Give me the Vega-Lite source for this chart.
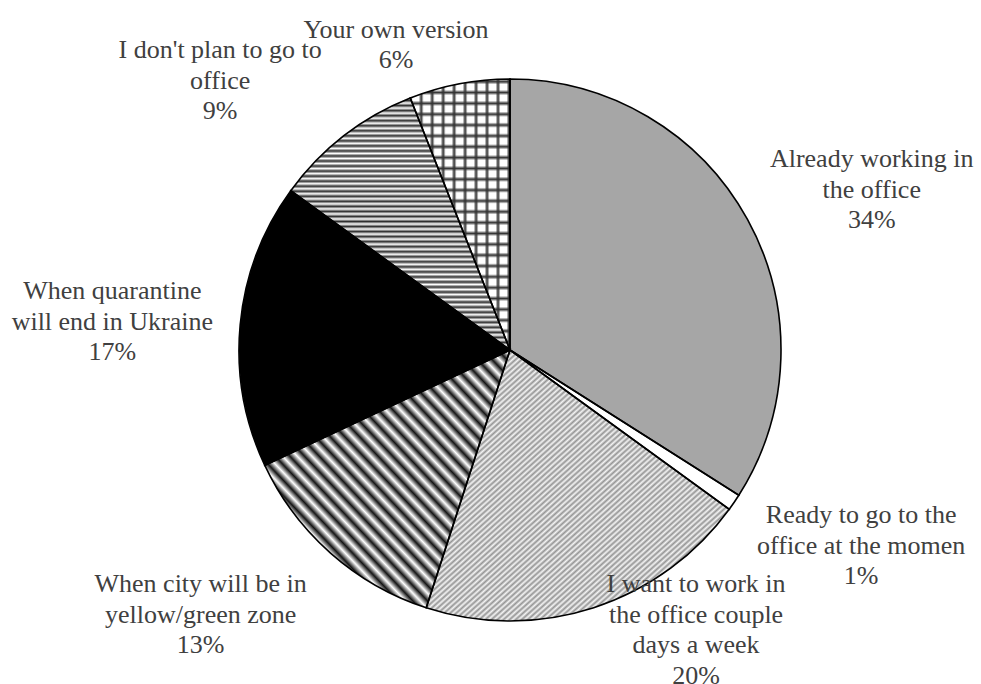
{
"$schema": "https://vega.github.io/schema/vega-lite/v6.json",
"width": 942, "height": 668,
"padding": {"left": 39, "top": 16, "right": 0, "bottom": 0},
"autosize": {"type": "none"},
"background": "#ffffff",
"config": {"view": {"stroke": null}},
"data": {"values": [
 {"cat": "Already working in the office", "label": "Already working in\nthe office\n34%", "value": 34, "order": 1},
 {"cat": "Ready to go to the office at the momen", "label": "Ready to go to the\noffice at the momen\n1%", "value": 1, "order": 2},
 {"cat": "I want to work in the office couple days a week", "label": "I want to work in\nthe office couple\ndays a week\n20%", "value": 20, "order": 3},
 {"cat": "When city will be in yellow/green zone", "label": "When city will be in\nyellow/green zone\n13%", "value": 13, "order": 4},
 {"cat": "When quarantine will end in Ukraine", "label": "When quarantine\nwill end in Ukraine\n17%", "value": 17, "order": 5},
 {"cat": "I don't plan to go to office", "label": "I don't plan to go to\noffice\n9%", "value": 9, "order": 6},
 {"cat": "Your own version", "label": "Your own version\n6%", "value": 6, "order": 7}
]},
"encoding": {
 "theta": {"field": "value", "type": "quantitative", "stack": true},
 "order": {"field": "order", "type": "quantitative"}
},
"layer": [
 {"mark": {"type": "arc", "outerRadius": 271, "strokeWidth": 0},
  "encoding": {"fill": {"field": "cat", "type": "nominal", "legend": null,
   "scale": {"domain": ["Already working in the office", "Ready to go to the office at the momen", "I want to work in the office couple days a week", "When city will be in yellow/green zone", "When quarantine will end in Ukraine", "I don't plan to go to office", "Your own version"],
             "range": ["#a6a6a6", "#ffffff", "#d0d0d0", "#ffffff", "#000000", "#ffffff", "#ffffff"]}}}},
 {"mark": {"type": "arc", "outerRadius": 271, "strokeWidth": 0,
   "fill": {"gradient": "linear", "x1": 0, "y1": 0, "x2": 1, "y2": 1, "stops": [
{"offset":0,"color":"#f4f4f4"},{"offset":0.005,"color":"#959595"},{"offset":0.01,"color":"#f4f4f4"},{"offset":0.015,"color":"#959595"},{"offset":0.02,"color":"#f4f4f4"},{"offset":0.025,"color":"#959595"},{"offset":0.03,"color":"#f4f4f4"},{"offset":0.035,"color":"#959595"},{"offset":0.04,"color":"#f4f4f4"},{"offset":0.045,"color":"#959595"},
{"offset":0.05,"color":"#f4f4f4"},{"offset":0.055,"color":"#959595"},{"offset":0.06,"color":"#f4f4f4"},{"offset":0.065,"color":"#959595"},{"offset":0.07,"color":"#f4f4f4"},{"offset":0.075,"color":"#959595"},{"offset":0.08,"color":"#f4f4f4"},{"offset":0.085,"color":"#959595"},{"offset":0.09,"color":"#f4f4f4"},{"offset":0.095,"color":"#959595"},
{"offset":0.1,"color":"#f4f4f4"},{"offset":0.105,"color":"#959595"},{"offset":0.11,"color":"#f4f4f4"},{"offset":0.115,"color":"#959595"},{"offset":0.12,"color":"#f4f4f4"},{"offset":0.125,"color":"#959595"},{"offset":0.13,"color":"#f4f4f4"},{"offset":0.135,"color":"#959595"},{"offset":0.14,"color":"#f4f4f4"},{"offset":0.145,"color":"#959595"},
{"offset":0.15,"color":"#f4f4f4"},{"offset":0.155,"color":"#959595"},{"offset":0.16,"color":"#f4f4f4"},{"offset":0.165,"color":"#959595"},{"offset":0.17,"color":"#f4f4f4"},{"offset":0.175,"color":"#959595"},{"offset":0.18,"color":"#f4f4f4"},{"offset":0.185,"color":"#959595"},{"offset":0.19,"color":"#f4f4f4"},{"offset":0.195,"color":"#959595"},
{"offset":0.2,"color":"#f4f4f4"},{"offset":0.205,"color":"#959595"},{"offset":0.21,"color":"#f4f4f4"},{"offset":0.215,"color":"#959595"},{"offset":0.22,"color":"#f4f4f4"},{"offset":0.225,"color":"#959595"},{"offset":0.23,"color":"#f4f4f4"},{"offset":0.235,"color":"#959595"},{"offset":0.24,"color":"#f4f4f4"},{"offset":0.245,"color":"#959595"},
{"offset":0.25,"color":"#f4f4f4"},{"offset":0.255,"color":"#959595"},{"offset":0.26,"color":"#f4f4f4"},{"offset":0.265,"color":"#959595"},{"offset":0.27,"color":"#f4f4f4"},{"offset":0.275,"color":"#959595"},{"offset":0.28,"color":"#f4f4f4"},{"offset":0.285,"color":"#959595"},{"offset":0.29,"color":"#f4f4f4"},{"offset":0.295,"color":"#959595"},
{"offset":0.3,"color":"#f4f4f4"},{"offset":0.305,"color":"#959595"},{"offset":0.31,"color":"#f4f4f4"},{"offset":0.315,"color":"#959595"},{"offset":0.32,"color":"#f4f4f4"},{"offset":0.325,"color":"#959595"},{"offset":0.33,"color":"#f4f4f4"},{"offset":0.335,"color":"#959595"},{"offset":0.34,"color":"#f4f4f4"},{"offset":0.345,"color":"#959595"},
{"offset":0.35,"color":"#f4f4f4"},{"offset":0.355,"color":"#959595"},{"offset":0.36,"color":"#f4f4f4"},{"offset":0.365,"color":"#959595"},{"offset":0.37,"color":"#f4f4f4"},{"offset":0.375,"color":"#959595"},{"offset":0.38,"color":"#f4f4f4"},{"offset":0.385,"color":"#959595"},{"offset":0.39,"color":"#f4f4f4"},{"offset":0.395,"color":"#959595"},
{"offset":0.4,"color":"#f4f4f4"},{"offset":0.405,"color":"#959595"},{"offset":0.41,"color":"#f4f4f4"},{"offset":0.415,"color":"#959595"},{"offset":0.42,"color":"#f4f4f4"},{"offset":0.425,"color":"#959595"},{"offset":0.43,"color":"#f4f4f4"},{"offset":0.435,"color":"#959595"},{"offset":0.44,"color":"#f4f4f4"},{"offset":0.445,"color":"#959595"},
{"offset":0.45,"color":"#f4f4f4"},{"offset":0.455,"color":"#959595"},{"offset":0.46,"color":"#f4f4f4"},{"offset":0.465,"color":"#959595"},{"offset":0.47,"color":"#f4f4f4"},{"offset":0.475,"color":"#959595"},{"offset":0.48,"color":"#f4f4f4"},{"offset":0.485,"color":"#959595"},{"offset":0.49,"color":"#f4f4f4"},{"offset":0.495,"color":"#959595"},
{"offset":0.5,"color":"#f4f4f4"},{"offset":0.505,"color":"#959595"},{"offset":0.51,"color":"#f4f4f4"},{"offset":0.515,"color":"#959595"},{"offset":0.52,"color":"#f4f4f4"},{"offset":0.525,"color":"#959595"},{"offset":0.53,"color":"#f4f4f4"},{"offset":0.535,"color":"#959595"},{"offset":0.54,"color":"#f4f4f4"},{"offset":0.545,"color":"#959595"},
{"offset":0.55,"color":"#f4f4f4"},{"offset":0.555,"color":"#959595"},{"offset":0.56,"color":"#f4f4f4"},{"offset":0.565,"color":"#959595"},{"offset":0.57,"color":"#f4f4f4"},{"offset":0.575,"color":"#959595"},{"offset":0.58,"color":"#f4f4f4"},{"offset":0.585,"color":"#959595"},{"offset":0.59,"color":"#f4f4f4"},{"offset":0.595,"color":"#959595"},
{"offset":0.6,"color":"#f4f4f4"},{"offset":0.605,"color":"#959595"},{"offset":0.61,"color":"#f4f4f4"},{"offset":0.615,"color":"#959595"},{"offset":0.62,"color":"#f4f4f4"},{"offset":0.625,"color":"#959595"},{"offset":0.63,"color":"#f4f4f4"},{"offset":0.635,"color":"#959595"},{"offset":0.64,"color":"#f4f4f4"},{"offset":0.645,"color":"#959595"},
{"offset":0.65,"color":"#f4f4f4"},{"offset":0.655,"color":"#959595"},{"offset":0.66,"color":"#f4f4f4"},{"offset":0.665,"color":"#959595"},{"offset":0.67,"color":"#f4f4f4"},{"offset":0.675,"color":"#959595"},{"offset":0.68,"color":"#f4f4f4"},{"offset":0.685,"color":"#959595"},{"offset":0.69,"color":"#f4f4f4"},{"offset":0.695,"color":"#959595"},
{"offset":0.7,"color":"#f4f4f4"},{"offset":0.705,"color":"#959595"},{"offset":0.71,"color":"#f4f4f4"},{"offset":0.715,"color":"#959595"},{"offset":0.72,"color":"#f4f4f4"},{"offset":0.725,"color":"#959595"},{"offset":0.73,"color":"#f4f4f4"},{"offset":0.735,"color":"#959595"},{"offset":0.74,"color":"#f4f4f4"},{"offset":0.745,"color":"#959595"},
{"offset":0.75,"color":"#f4f4f4"},{"offset":0.755,"color":"#959595"},{"offset":0.76,"color":"#f4f4f4"},{"offset":0.765,"color":"#959595"},{"offset":0.77,"color":"#f4f4f4"},{"offset":0.775,"color":"#959595"},{"offset":0.78,"color":"#f4f4f4"},{"offset":0.785,"color":"#959595"},{"offset":0.79,"color":"#f4f4f4"},{"offset":0.795,"color":"#959595"},
{"offset":0.8,"color":"#f4f4f4"},{"offset":0.805,"color":"#959595"},{"offset":0.81,"color":"#f4f4f4"},{"offset":0.815,"color":"#959595"},{"offset":0.82,"color":"#f4f4f4"},{"offset":0.825,"color":"#959595"},{"offset":0.83,"color":"#f4f4f4"},{"offset":0.835,"color":"#959595"},{"offset":0.84,"color":"#f4f4f4"},{"offset":0.845,"color":"#959595"},
{"offset":0.85,"color":"#f4f4f4"},{"offset":0.855,"color":"#959595"},{"offset":0.86,"color":"#f4f4f4"},{"offset":0.865,"color":"#959595"},{"offset":0.87,"color":"#f4f4f4"},{"offset":0.875,"color":"#959595"},{"offset":0.88,"color":"#f4f4f4"},{"offset":0.885,"color":"#959595"},{"offset":0.89,"color":"#f4f4f4"},{"offset":0.895,"color":"#959595"},
{"offset":0.9,"color":"#f4f4f4"},{"offset":0.905,"color":"#959595"},{"offset":0.91,"color":"#f4f4f4"},{"offset":0.915,"color":"#959595"},{"offset":0.92,"color":"#f4f4f4"},{"offset":0.925,"color":"#959595"},{"offset":0.93,"color":"#f4f4f4"},{"offset":0.935,"color":"#959595"},{"offset":0.94,"color":"#f4f4f4"},{"offset":0.945,"color":"#959595"},
{"offset":0.95,"color":"#f4f4f4"},{"offset":0.955,"color":"#959595"},{"offset":0.96,"color":"#f4f4f4"},{"offset":0.965,"color":"#959595"},{"offset":0.97,"color":"#f4f4f4"},{"offset":0.975,"color":"#959595"},{"offset":0.98,"color":"#f4f4f4"},{"offset":0.985,"color":"#959595"},{"offset":0.99,"color":"#f4f4f4"},{"offset":0.995,"color":"#959595"},
{"offset":1,"color":"#f4f4f4"}]}},
  "encoding": {"opacity": {"condition": {"test": "datum.order === 3", "value": 1}, "value": 0}}},
 {"mark": {"type": "arc", "outerRadius": 271, "strokeWidth": 0,
   "fill": {"gradient": "linear", "x1": 0, "y1": 1, "x2": 1, "y2": 0, "stops": [
{"offset":0,"color":"#ffffff"},{"offset":0.015,"color":"#141414"},{"offset":0.03,"color":"#ffffff"},{"offset":0.045,"color":"#141414"},{"offset":0.06,"color":"#ffffff"},{"offset":0.075,"color":"#141414"},{"offset":0.09,"color":"#ffffff"},{"offset":0.105,"color":"#141414"},{"offset":0.12,"color":"#ffffff"},{"offset":0.135,"color":"#141414"},
{"offset":0.15,"color":"#ffffff"},{"offset":0.165,"color":"#141414"},{"offset":0.18,"color":"#ffffff"},{"offset":0.195,"color":"#141414"},{"offset":0.21,"color":"#ffffff"},{"offset":0.225,"color":"#141414"},{"offset":0.24,"color":"#ffffff"},{"offset":0.255,"color":"#141414"},{"offset":0.27,"color":"#ffffff"},{"offset":0.285,"color":"#141414"},
{"offset":0.3,"color":"#ffffff"},{"offset":0.315,"color":"#141414"},{"offset":0.33,"color":"#ffffff"},{"offset":0.345,"color":"#141414"},{"offset":0.36,"color":"#ffffff"},{"offset":0.375,"color":"#141414"},{"offset":0.39,"color":"#ffffff"},{"offset":0.405,"color":"#141414"},{"offset":0.42,"color":"#ffffff"},{"offset":0.435,"color":"#141414"},
{"offset":0.45,"color":"#ffffff"},{"offset":0.465,"color":"#141414"},{"offset":0.48,"color":"#ffffff"},{"offset":0.495,"color":"#141414"},{"offset":0.51,"color":"#ffffff"},{"offset":0.525,"color":"#141414"},{"offset":0.54,"color":"#ffffff"},{"offset":0.555,"color":"#141414"},{"offset":0.57,"color":"#ffffff"},{"offset":0.585,"color":"#141414"},
{"offset":0.6,"color":"#ffffff"},{"offset":0.615,"color":"#141414"},{"offset":0.63,"color":"#ffffff"},{"offset":0.645,"color":"#141414"},{"offset":0.66,"color":"#ffffff"},{"offset":0.675,"color":"#141414"},{"offset":0.69,"color":"#ffffff"},{"offset":0.705,"color":"#141414"},{"offset":0.72,"color":"#ffffff"},{"offset":0.735,"color":"#141414"},
{"offset":0.75,"color":"#ffffff"},{"offset":0.765,"color":"#141414"},{"offset":0.78,"color":"#ffffff"},{"offset":0.795,"color":"#141414"},{"offset":0.81,"color":"#ffffff"},{"offset":0.825,"color":"#141414"},{"offset":0.84,"color":"#ffffff"},{"offset":0.855,"color":"#141414"},{"offset":0.87,"color":"#ffffff"},{"offset":0.885,"color":"#141414"},
{"offset":0.9,"color":"#ffffff"},{"offset":0.915,"color":"#141414"},{"offset":0.93,"color":"#ffffff"},{"offset":0.945,"color":"#141414"},{"offset":0.96,"color":"#ffffff"},{"offset":0.975,"color":"#141414"},{"offset":0.99,"color":"#ffffff"}]}},
  "encoding": {"opacity": {"condition": {"test": "datum.order === 4", "value": 1}, "value": 0}}},
 {"mark": {"type": "arc", "outerRadius": 271, "strokeWidth": 0,
   "fill": {"gradient": "linear", "x1": 0, "y1": 0, "x2": 0, "y2": 1, "stops": [
{"offset":0,"color":"#ffffff"},{"offset":0.01,"color":"#303030"},{"offset":0.02,"color":"#ffffff"},{"offset":0.03,"color":"#303030"},{"offset":0.04,"color":"#ffffff"},{"offset":0.05,"color":"#303030"},{"offset":0.06,"color":"#ffffff"},{"offset":0.07,"color":"#303030"},{"offset":0.08,"color":"#ffffff"},{"offset":0.09,"color":"#303030"},
{"offset":0.1,"color":"#ffffff"},{"offset":0.11,"color":"#303030"},{"offset":0.12,"color":"#ffffff"},{"offset":0.13,"color":"#303030"},{"offset":0.14,"color":"#ffffff"},{"offset":0.15,"color":"#303030"},{"offset":0.16,"color":"#ffffff"},{"offset":0.17,"color":"#303030"},{"offset":0.18,"color":"#ffffff"},{"offset":0.19,"color":"#303030"},
{"offset":0.2,"color":"#ffffff"},{"offset":0.21,"color":"#303030"},{"offset":0.22,"color":"#ffffff"},{"offset":0.23,"color":"#303030"},{"offset":0.24,"color":"#ffffff"},{"offset":0.25,"color":"#303030"},{"offset":0.26,"color":"#ffffff"},{"offset":0.27,"color":"#303030"},{"offset":0.28,"color":"#ffffff"},{"offset":0.29,"color":"#303030"},
{"offset":0.3,"color":"#ffffff"},{"offset":0.31,"color":"#303030"},{"offset":0.32,"color":"#ffffff"},{"offset":0.33,"color":"#303030"},{"offset":0.34,"color":"#ffffff"},{"offset":0.35,"color":"#303030"},{"offset":0.36,"color":"#ffffff"},{"offset":0.37,"color":"#303030"},{"offset":0.38,"color":"#ffffff"},{"offset":0.39,"color":"#303030"},
{"offset":0.4,"color":"#ffffff"},{"offset":0.41,"color":"#303030"},{"offset":0.42,"color":"#ffffff"},{"offset":0.43,"color":"#303030"},{"offset":0.44,"color":"#ffffff"},{"offset":0.45,"color":"#303030"},{"offset":0.46,"color":"#ffffff"},{"offset":0.47,"color":"#303030"},{"offset":0.48,"color":"#ffffff"},{"offset":0.49,"color":"#303030"},
{"offset":0.5,"color":"#ffffff"},{"offset":0.51,"color":"#303030"},{"offset":0.52,"color":"#ffffff"},{"offset":0.53,"color":"#303030"},{"offset":0.54,"color":"#ffffff"},{"offset":0.55,"color":"#303030"},{"offset":0.56,"color":"#ffffff"},{"offset":0.57,"color":"#303030"},{"offset":0.58,"color":"#ffffff"},{"offset":0.59,"color":"#303030"},
{"offset":0.6,"color":"#ffffff"},{"offset":0.61,"color":"#303030"},{"offset":0.62,"color":"#ffffff"},{"offset":0.63,"color":"#303030"},{"offset":0.64,"color":"#ffffff"},{"offset":0.65,"color":"#303030"},{"offset":0.66,"color":"#ffffff"},{"offset":0.67,"color":"#303030"},{"offset":0.68,"color":"#ffffff"},{"offset":0.69,"color":"#303030"},
{"offset":0.7,"color":"#ffffff"},{"offset":0.71,"color":"#303030"},{"offset":0.72,"color":"#ffffff"},{"offset":0.73,"color":"#303030"},{"offset":0.74,"color":"#ffffff"},{"offset":0.75,"color":"#303030"},{"offset":0.76,"color":"#ffffff"},{"offset":0.77,"color":"#303030"},{"offset":0.78,"color":"#ffffff"},{"offset":0.79,"color":"#303030"},
{"offset":0.8,"color":"#ffffff"},{"offset":0.81,"color":"#303030"},{"offset":0.82,"color":"#ffffff"},{"offset":0.83,"color":"#303030"},{"offset":0.84,"color":"#ffffff"},{"offset":0.85,"color":"#303030"},{"offset":0.86,"color":"#ffffff"},{"offset":0.87,"color":"#303030"},{"offset":0.88,"color":"#ffffff"},{"offset":0.89,"color":"#303030"},
{"offset":0.9,"color":"#ffffff"},{"offset":0.91,"color":"#303030"},{"offset":0.92,"color":"#ffffff"},{"offset":0.93,"color":"#303030"},{"offset":0.94,"color":"#ffffff"},{"offset":0.95,"color":"#303030"},{"offset":0.96,"color":"#ffffff"},{"offset":0.97,"color":"#303030"},{"offset":0.98,"color":"#ffffff"},{"offset":0.99,"color":"#303030"},
{"offset":1,"color":"#ffffff"}]}},
  "encoding": {"opacity": {"condition": {"test": "datum.order === 6", "value": 1}, "value": 0}}},
 {"mark": {"type": "arc", "outerRadius": 271, "strokeWidth": 0,
   "fill": {"gradient": "linear", "x1": 0, "y1": 0, "x2": 1, "y2": 0, "stops": [
{"offset":0,"color":"#333333"},{"offset":0.025,"color":"#ffffff"},{"offset":0.085,"color":"#ffffff"},{"offset":0.11,"color":"#333333"},{"offset":0.135,"color":"#ffffff"},{"offset":0.195,"color":"#ffffff"},{"offset":0.22,"color":"#333333"},{"offset":0.245,"color":"#ffffff"},{"offset":0.305,"color":"#ffffff"},{"offset":0.33,"color":"#333333"},
{"offset":0.355,"color":"#ffffff"},{"offset":0.415,"color":"#ffffff"},{"offset":0.44,"color":"#333333"},{"offset":0.465,"color":"#ffffff"},{"offset":0.525,"color":"#ffffff"},{"offset":0.55,"color":"#333333"},{"offset":0.575,"color":"#ffffff"},{"offset":0.635,"color":"#ffffff"},{"offset":0.66,"color":"#333333"},{"offset":0.685,"color":"#ffffff"},
{"offset":0.745,"color":"#ffffff"},{"offset":0.77,"color":"#333333"},{"offset":0.795,"color":"#ffffff"},{"offset":0.855,"color":"#ffffff"},{"offset":0.88,"color":"#333333"},{"offset":0.905,"color":"#ffffff"},{"offset":0.965,"color":"#ffffff"},{"offset":0.99,"color":"#333333"}]}},
  "encoding": {"opacity": {"condition": {"test": "datum.order === 7", "value": 1}, "value": 0}}},
 {"mark": {"type": "arc", "outerRadius": 271, "strokeWidth": 0,
   "fill": {"gradient": "linear", "x1": 0, "y1": 0, "x2": 0, "y2": 1, "stops": [
{"offset":0,"color":"rgba(51,51,51,0)"},{"offset":0.01,"color":"#333333"},{"offset":0.02,"color":"rgba(51,51,51,0)"},{"offset":0.04,"color":"rgba(51,51,51,0)"},{"offset":0.05,"color":"#333333"},{"offset":0.06,"color":"rgba(51,51,51,0)"},
{"offset":0.08,"color":"rgba(51,51,51,0)"},{"offset":0.09,"color":"#333333"},{"offset":0.1,"color":"rgba(51,51,51,0)"},{"offset":0.12,"color":"rgba(51,51,51,0)"},{"offset":0.13,"color":"#333333"},{"offset":0.14,"color":"rgba(51,51,51,0)"},
{"offset":0.16,"color":"rgba(51,51,51,0)"},{"offset":0.17,"color":"#333333"},{"offset":0.18,"color":"rgba(51,51,51,0)"},{"offset":0.2,"color":"rgba(51,51,51,0)"},{"offset":0.21,"color":"#333333"},{"offset":0.22,"color":"rgba(51,51,51,0)"},
{"offset":0.24,"color":"rgba(51,51,51,0)"},{"offset":0.25,"color":"#333333"},{"offset":0.26,"color":"rgba(51,51,51,0)"},{"offset":0.28,"color":"rgba(51,51,51,0)"},{"offset":0.29,"color":"#333333"},{"offset":0.3,"color":"rgba(51,51,51,0)"},
{"offset":0.32,"color":"rgba(51,51,51,0)"},{"offset":0.33,"color":"#333333"},{"offset":0.34,"color":"rgba(51,51,51,0)"},{"offset":0.36,"color":"rgba(51,51,51,0)"},{"offset":0.37,"color":"#333333"},{"offset":0.38,"color":"rgba(51,51,51,0)"},
{"offset":0.4,"color":"rgba(51,51,51,0)"},{"offset":0.41,"color":"#333333"},{"offset":0.42,"color":"rgba(51,51,51,0)"},{"offset":0.44,"color":"rgba(51,51,51,0)"},{"offset":0.45,"color":"#333333"},{"offset":0.46,"color":"rgba(51,51,51,0)"},
{"offset":0.48,"color":"rgba(51,51,51,0)"},{"offset":0.49,"color":"#333333"},{"offset":0.5,"color":"rgba(51,51,51,0)"},{"offset":0.52,"color":"rgba(51,51,51,0)"},{"offset":0.53,"color":"#333333"},{"offset":0.54,"color":"rgba(51,51,51,0)"},
{"offset":0.56,"color":"rgba(51,51,51,0)"},{"offset":0.57,"color":"#333333"},{"offset":0.58,"color":"rgba(51,51,51,0)"},{"offset":0.6,"color":"rgba(51,51,51,0)"},{"offset":0.61,"color":"#333333"},{"offset":0.62,"color":"rgba(51,51,51,0)"},
{"offset":0.64,"color":"rgba(51,51,51,0)"},{"offset":0.65,"color":"#333333"},{"offset":0.66,"color":"rgba(51,51,51,0)"},{"offset":0.68,"color":"rgba(51,51,51,0)"},{"offset":0.69,"color":"#333333"},{"offset":0.7,"color":"rgba(51,51,51,0)"},
{"offset":0.72,"color":"rgba(51,51,51,0)"},{"offset":0.73,"color":"#333333"},{"offset":0.74,"color":"rgba(51,51,51,0)"},{"offset":0.76,"color":"rgba(51,51,51,0)"},{"offset":0.77,"color":"#333333"},{"offset":0.78,"color":"rgba(51,51,51,0)"},
{"offset":0.8,"color":"rgba(51,51,51,0)"},{"offset":0.81,"color":"#333333"},{"offset":0.82,"color":"rgba(51,51,51,0)"},{"offset":0.84,"color":"rgba(51,51,51,0)"},{"offset":0.85,"color":"#333333"},{"offset":0.86,"color":"rgba(51,51,51,0)"},
{"offset":0.88,"color":"rgba(51,51,51,0)"},{"offset":0.89,"color":"#333333"},{"offset":0.9,"color":"rgba(51,51,51,0)"},{"offset":0.92,"color":"rgba(51,51,51,0)"},{"offset":0.93,"color":"#333333"},{"offset":0.94,"color":"rgba(51,51,51,0)"},
{"offset":0.96,"color":"rgba(51,51,51,0)"},{"offset":0.97,"color":"#333333"},{"offset":0.98,"color":"rgba(51,51,51,0)"}]}},
  "encoding": {"opacity": {"condition": {"test": "datum.order === 7", "value": 1}, "value": 0}}},
 {"mark": {"type": "arc", "outerRadius": 271, "filled": false, "stroke": "#000000", "strokeWidth": 1.6}},
 {"mark": {"type": "text", "radius": 409, "thetaOffset": 0.0171, "font": "Liberation Serif", "fontSize": 26, "lineHeight": 30.5, "color": "#404040", "lineBreak": "\n", "align": "center", "baseline": "middle"},
  "encoding": {"text": {"condition": {"test": "datum.order === 1", "field": "label", "type": "nominal"}, "value": ""}}},
 {"mark": {"type": "text", "radius": 388, "thetaOffset": -0.1574, "font": "Liberation Serif", "fontSize": 26, "lineHeight": 30.5, "color": "#404040", "lineBreak": "\n", "align": "center", "baseline": "middle"},
  "encoding": {"text": {"condition": {"test": "datum.order === 2", "field": "label", "type": "nominal"}, "value": ""}}},
 {"mark": {"type": "text", "radius": 299, "thetaOffset": -0.3574, "font": "Liberation Serif", "fontSize": 26, "lineHeight": 30.5, "color": "#404040", "lineBreak": "\n", "align": "center", "baseline": "middle"},
  "encoding": {"text": {"condition": {"test": "datum.order === 3", "field": "label", "type": "nominal"}, "value": ""}}},
 {"mark": {"type": "text", "radius": 388, "thetaOffset": 0.2002, "font": "Liberation Serif", "fontSize": 26, "lineHeight": 30.5, "color": "#404040", "lineBreak": "\n", "align": "center", "baseline": "middle"},
  "encoding": {"text": {"condition": {"test": "datum.order === 4", "field": "label", "type": "nominal"}, "value": ""}}},
 {"mark": {"type": "text", "radius": 402, "thetaOffset": 0.0529, "font": "Liberation Serif", "fontSize": 26, "lineHeight": 30.5, "color": "#404040", "lineBreak": "\n", "align": "center", "baseline": "middle"},
  "encoding": {"text": {"condition": {"test": "datum.order === 5", "field": "label", "type": "nominal"}, "value": ""}}},
 {"mark": {"type": "text", "radius": 417, "thetaOffset": -0.1087, "font": "Liberation Serif", "fontSize": 26, "lineHeight": 30.5, "color": "#404040", "lineBreak": "\n", "align": "center", "baseline": "middle"},
  "encoding": {"text": {"condition": {"test": "datum.order === 6", "field": "label", "type": "nominal"}, "value": ""}}},
 {"mark": {"type": "text", "radius": 340, "thetaOffset": -0.1534, "font": "Liberation Serif", "fontSize": 26, "lineHeight": 30.5, "color": "#404040", "lineBreak": "\n", "align": "center", "baseline": "middle"},
  "encoding": {"text": {"condition": {"test": "datum.order === 7", "field": "label", "type": "nominal"}, "value": ""}}}
]
}
